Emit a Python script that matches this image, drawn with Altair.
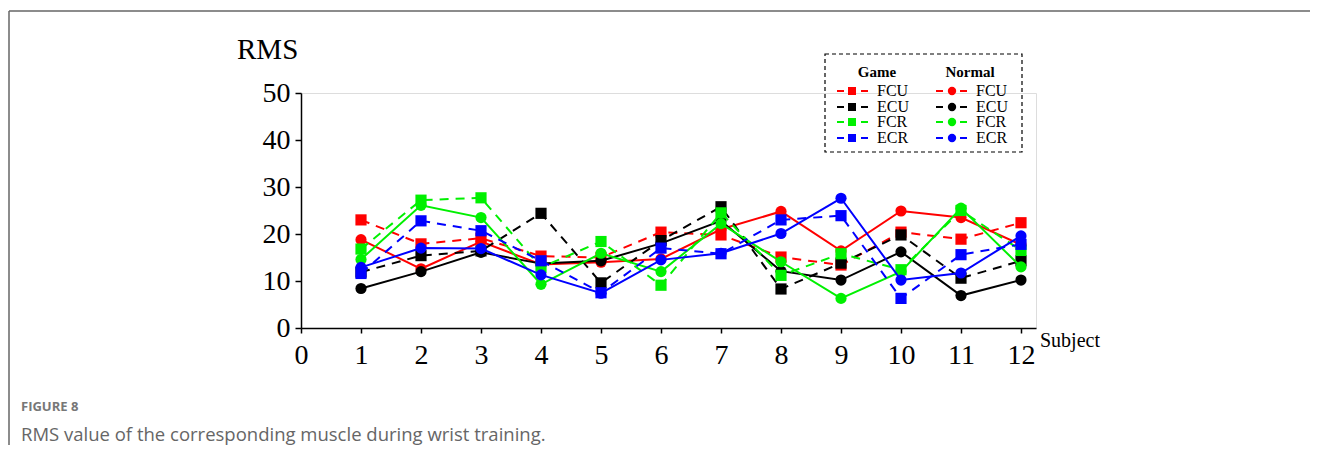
import altair as alt
import pandas as pd

subjects = list(range(1, 13))

game_fcu = [23.0, 17.9, 19.1, 15.3, 15.0, 20.4, 19.8, 15.1, 13.4, 20.4, 18.9, 22.4]
game_ecu = [11.9, 15.4, 16.4, 24.4, 9.6, 18.6, 25.8, 8.3, 13.8, 19.8, 10.6, 14.3]
game_fcr = [16.8, 27.2, 27.7, 12.9, 18.4, 9.1, 24.5, 11.2, 15.8, 12.4, 25.0, 16.5]
game_ecr = [11.6, 22.8, 20.7, 14.3, 7.5, 17.0, 15.8, 23.0, 23.9, 6.3, 15.6, 17.8]

normal_fcu = [18.8, 12.6, 18.4, 13.5, 14.0, 14.7, 21.0, 24.8, 16.4, 24.9, 23.5, 17.7]
normal_ecu = [8.4, 12.0, 16.1, 13.7, 14.3, 18.0, 22.8, 12.1, 10.2, 16.2, 6.9, 10.2]
normal_fcr = [14.6, 26.1, 23.5, 9.3, 15.9, 12.0, 22.2, 14.1, 6.3, 12.0, 25.5, 13.0]
normal_ecr = [12.9, 17.0, 16.9, 11.3, 7.4, 14.5, 15.9, 20.1, 27.6, 10.2, 11.7, 19.6]

muscles = ["FCU", "ECU", "FCR", "ECR"]
colors = {"FCU": "#ff0000", "ECU": "#000000", "FCR": "#00f000", "ECR": "#0000ff"}
game = {"FCU": game_fcu, "ECU": game_ecu, "FCR": game_fcr, "ECR": game_ecr}
normal = {"FCU": normal_fcu, "ECU": normal_ecu, "FCR": normal_fcr, "ECR": normal_ecr}

x_scale = alt.Scale(domain=[0, 12.25], nice=False, zero=False)
y_scale = alt.Scale(domain=[0, 50], nice=False)
SERIF = "Liberation Serif"

x_axis = alt.Axis(values=list(range(0, 13)), title=None, grid=False,
                  labelFont=SERIF, labelFontSize=28, labelColor="black",
                  labelPadding=8, tickSize=5, tickColor="black", tickWidth=1.5,
                  domainColor="black", domainWidth=1.5, labelFlush=False)
y_axis = alt.Axis(values=[0, 10, 20, 30, 40, 50], title=None, grid=False,
                  labelFont=SERIF, labelFontSize=28, labelColor="black",
                  labelPadding=5, tickSize=6, tickColor="black", tickWidth=1.5,
                  domainColor="black", domainWidth=1.5)

layers = []
for m in muscles:
    for kind, src in (("Game", game), ("Normal", normal)):
        df = pd.DataFrame({"Subject": subjects, "RMS": src[m]})
        base = alt.Chart(df).encode(
            x=alt.X("Subject:Q", scale=x_scale, axis=x_axis),
            y=alt.Y("RMS:Q", scale=y_scale, axis=y_axis))
        if kind == "Game":
            line = base.mark_line(color=colors[m], strokeWidth=2, strokeDash=[9, 7])
            pts = base.mark_point(shape="square", filled=True, size=125, opacity=1,
                                  color=colors[m], strokeWidth=0)
        else:
            line = base.mark_line(color=colors[m], strokeWidth=2)
            pts = base.mark_circle(size=125, opacity=1, color=colors[m])
        layers.append(line)
        layers.append(pts)

one = alt.Data(values=[{"k": 1}])


def text(s, x, y, size, font=SERIF, color="black", weight="normal", align="left"):
    return alt.Chart(one).mark_text(text=s, font=font, fontSize=size, color=color,
                                    fontWeight=weight, align=align, baseline="middle").encode(
        x=alt.value(x), y=alt.value(y))


# frame lines
layers.append(alt.Chart(one).mark_rule(color="#666666", strokeWidth=1.5).encode(
    x=alt.value(-292), x2=alt.value(1009), y=alt.value(-82)))
layers.append(alt.Chart(one).mark_rule(color="#666666", strokeWidth=1.5).encode(
    x=alt.value(-292), y=alt.value(-82), y2=alt.value(362)))

# titles
layers.append(text("RMS", -64, -43, 29))
layers.append(text("Subject", 739, 248, 20))
layers.append(text("FIGURE 8", -280, 314, 13, font="Open Sans", color="#777777", weight="bold"))
layers.append(text("RMS value of the corresponding muscle during wrist training.", -280, 342, 18.5,
                   font="Open Sans", color="#666666"))

# legend
layers.append(alt.Chart(one).mark_rect(fillOpacity=0, stroke="black", strokeWidth=1.2,
                                       strokeDash=[4, 3]).encode(
    x=alt.value(524), x2=alt.value(721), y=alt.value(-39), y2=alt.value(59)))
layers.append(text("Game", 576, -21, 15, weight="bold", align="center"))
layers.append(text("Normal", 669, -21, 15, weight="bold", align="center"))
row_y = [-2, 14, 29, 45]
for m, ry in zip(muscles, row_y):
    layers.append(alt.Chart(one).mark_rule(color=colors[m], strokeWidth=2, strokeDash=[7, 5]).encode(
        x=alt.value(536), x2=alt.value(568), y=alt.value(ry)))
    layers.append(alt.Chart(one).mark_point(shape="square", filled=True, size=64, opacity=1,
                                            color=colors[m]).encode(x=alt.value(551), y=alt.value(ry)))
    layers.append(text(m, 576, ry, 16))
    layers.append(alt.Chart(one).mark_rule(color=colors[m], strokeWidth=2, strokeDash=[7, 5]).encode(
        x=alt.value(635), x2=alt.value(666), y=alt.value(ry)))
    layers.append(alt.Chart(one).mark_circle(size=70, opacity=1, color=colors[m]).encode(
        x=alt.value(651), y=alt.value(ry)))
    layers.append(text(m, 675, ry, 16))

chart = alt.layer(*layers).properties(
    width=735, height=235,
    autosize=alt.AutoSizeParams(type="none"),
    padding={"left": 293, "top": 85, "right": 278, "bottom": 117},
).configure_view(strokeWidth=0).configure(background="white")

chart.save("out.html", embed_options={"renderer": "svg", "actions": False})
